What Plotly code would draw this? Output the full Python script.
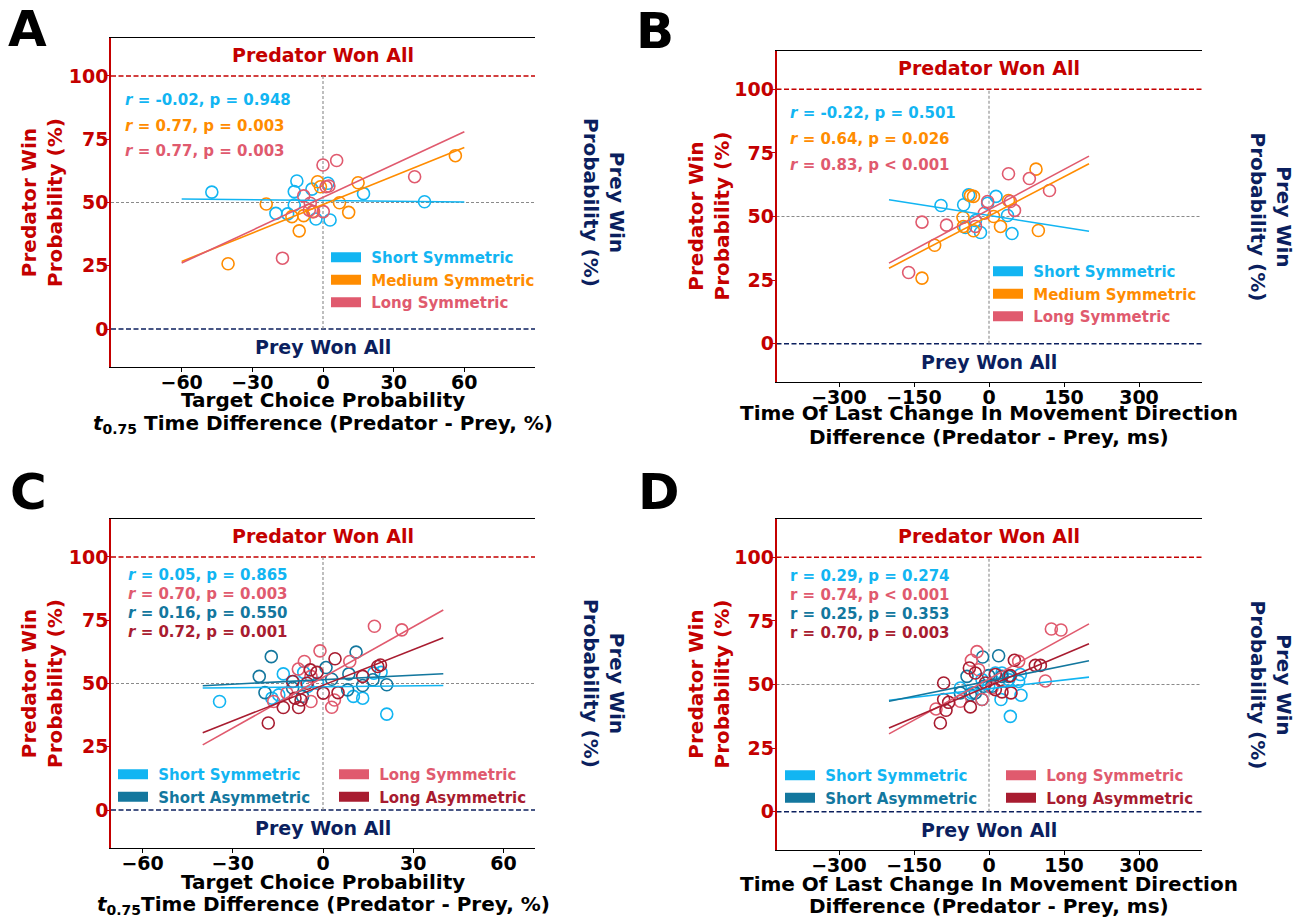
import numpy as np
import plotly.graph_objects as go

W, H = 1306, 917
FONT = "DejaVu Sans"
RED = "#c40000"
NAVY = "#0b1f5e"
GRAY = "#8a8a8a"

C_SHORT_SYM = "#12b5f2"
C_MED_SYM = "#ff8c00"
C_LONG_SYM = "#e05a6e"
C_SHORT_ASYM = "#13779e"
C_LONG_ASYM = "#a81c30"

# ---------------- Panel A data ----------------
a_short_sym_x = [-47.2, -11.1, -12.2, -4.7, 2.1, -12.2, -20.0, -15.0, -3.0, 3.0, 17.2, 43.1]
a_short_sym_y = [54.1, 58.5, 54.3, 55.3, 57.6, 49.0, 45.7, 45.5, 43.5, 43.1, 53.5, 50.3]
a_med_sym_x = [56.2, 14.9, -2.3, -1.1, -24.1, 7.0, 10.9, -13.2, -8.2, -4.4, -10.1, -40.3]
a_med_sym_y = [68.5, 57.8, 58.2, 56.2, 49.4, 49.9, 46.1, 44.4, 44.8, 46.4, 38.8, 25.8]
a_long_sym_x = [5.8, 0.0, 38.9, 1.3, 2.5, -8.2, -5.4, -4.0, 0.1, -5.8, -17.2]
a_long_sym_y = [66.6, 64.8, 60.2, 56.2, 56.5, 52.6, 49.7, 46.4, 46.4, 47.0, 28.0]
a_fit_slope = [-0.01, 0.375, 0.432]
a_fit_intercept = [50.8, 49.2, 52.0]
a_fit_xrange = [-60, 60]
a_stats = ["<i>r</i> = -0.02, p = 0.948", "<i>r</i> = 0.77, p = 0.003", "<i>r</i> = 0.77, p = 0.003"]

# ---------------- Panel B data ----------------
b_short_sym_x = [-96, -50.7, -40.7, 14, -2.7, -27, -47, -17, 37, 46]
b_short_sym_y = [54.3, 54.6, 58.5, 57.9, 55.2, 48.4, 45.7, 43.7, 50.4, 43.3]
b_med_sym_x = [94, -37, -31, 39, -52, 9.3, 23, -31, -51, 98.7, -108.7, -134]
b_med_sym_y = [68.6, 58.2, 57.9, 56.3, 49.6, 50.0, 46.1, 44.4, 46.1, 44.5, 38.7, 25.8]
b_long_sym_x = [39, 80.7, 121, -2.7, 42.7, 51, -9.3, -134, -85, -27, -160.7]
b_long_sym_y = [66.8, 64.9, 60.2, 55.9, 55.9, 52.4, 51.3, 47.8, 46.6, 46.1, 28.0]
b_fit_slope = [-0.031, 0.1025, 0.105]
b_fit_intercept = [50.4, 50.2, 52.7]
b_fit_xrange = [-200, 200]
b_stats = ["<i>r</i> = -0.22, p = 0.501", "<i>r</i> = 0.64, p = 0.026", "<i>r</i> = 0.83, p &lt; 0.001"]

# ---------------- Panel C data ----------------
c_short_sym_x = [-34.4, -13.2, -17, -9.9, -6.4, -5.1, 10.1, 13.2, 19.3, 16.9, 21.2, -1.8, -14.7]
c_short_sym_y = [42.9, 53.8, 44.2, 50.8, 54.4, 48.8, 44.9, 44.2, 54.4, 54.1, 37.9, 50.1, 45.5]
c_short_asym_x = [-17.2, -21.2, -19.3, -10.1, 1.0, 2.9, 11.0, 8.6, 8.2, 13.2, 16.6, 21.2, -6.8]
c_short_asym_y = [60.6, 52.8, 46.4, 48.2, 56.3, 51.7, 62.4, 53.8, 47.5, 49.2, 51.5, 49.5, 44.9]
c_long_sym_x = [17.1, 26.2, -1.0, -6.2, -8.2, 8.9, 3.8, 2.9, -4.0, -16.4, -12.0, -4.0]
c_long_sym_y = [72.6, 71.2, 62.9, 58.7, 55.7, 58.7, 43.5, 40.6, 42.9, 42.9, 46.2, 52.8]
c_long_asym_x = [-18.2, -13.2, -8.1, -10.1, -9.3, -7.3, -4.2, -2.0, -5.3, 0.1, 4.0, 5.0, 13.2, 18.2, 19.1]
c_long_asym_y = [34.4, 40.5, 40.5, 50.8, 44.2, 43.5, 55.4, 54.4, 50.1, 46.2, 59.8, 46.4, 52.8, 56.7, 57.3]
c_fit_slope = [0.0125, 0.059, 0.666, 0.469]
c_fit_intercept = [48.7, 51.5, 52.4, 49.3]
c_fit_xrange = [-40, 40]
c_stats = ["<i>r</i> = 0.05, p = 0.865", "<i>r</i> = 0.70, p = 0.003",
           "<i>r</i> = 0.16, p = 0.550", "<i>r</i> = 0.72, p = 0.001"]

# ---------------- Panel D data ----------------
d_short_sym_x = [42.7, 24, 64, 62.7, 59.3, 12.7, 26, -14, -34, -57.3, -0.7, 39.3]
d_short_sym_y = [37.5, 44.1, 45.8, 53.9, 51.2, 54.5, 54.5, 51.9, 46.7, 48.6, 49.3, 51.9]
d_short_asym_x = [19.3, -12.7, -44, -37.3, -14, -57.3, -0.7, 26, 39.3, -10.7, 6, -27.3]
d_short_asym_y = [61.3, 60.8, 53.2, 46.0, 44.1, 46.7, 53.5, 53.2, 53.2, 49.3, 49.3, 46.7]
d_long_sym_x = [124.7, 144, -24, -35.3, -20.7, 59.3, 112.7, -106, -57.3, -14, 6]
d_long_sym_y = [71.8, 71.4, 62.9, 59.5, 55.8, 59.1, 51.4, 40.4, 43.4, 44.1, 48.6]
d_long_asym_x = [-97.3, -90.7, -90.7, -86, -80.7, -37.3, -39.3, -27.3, -7.3, 12.7, 42.7, 50.7,
                 12.7, 26, 44, 92.7, 102.7]
d_long_asym_y = [34.9, 50.6, 44.1, 39.9, 43.0, 41.2, 56.5, 54.5, 50.6, 53.9, 53.5, 59.5,
                 48, 47.1, 46.7, 57.5, 57.5]
d_fit_slope = [0.0228, 0.0398, 0.108, 0.0828]
d_fit_intercept = [48.35, 51.35, 52.2, 49.45]
d_fit_xrange = [-200, 200]
d_stats = ["r = 0.29, p = 0.274", "r = 0.74, p &lt; 0.001",
           "r = 0.25, p = 0.353", "r = 0.70, p = 0.003"]

left_ticks = [0, 25, 50, 75, 100]
right_ticks = [0, 25, 50, 75, 100]
x_ticks_pct = [-60, -30, 0, 30, 60]
x_ticks_ms = [-300, -150, 0, 150, 300]

xtitle_pct_a = ["Target Choice Probability",
                "<i>t</i><sub>0.75</sub> Time Difference (Predator - Prey, %)"]
xtitle_pct_c = ["Target Choice Probability",
                "<i>t</i><sub>0.75</sub>Time Difference (Predator - Prey, %)"]
xtitle_ms = ["Time Of Last Change In Movement Direction",
             "Difference (Predator - Prey, ms)"]


def pxx(v):
    return v / W


def pxy(v):
    return 1 - v / H


fig = go.Figure()
annotations = []
shapes = []

panels = [
    dict(letter="A", letter_pos=(27, 29), xdom=(111, 535), ydom=(38, 367), xrange=[-90, 90], xticks=x_ticks_pct,
         series=[("Short Symmetric", C_SHORT_SYM, a_short_sym_x, a_short_sym_y),
                 ("Medium Symmetric", C_MED_SYM, a_med_sym_x, a_med_sym_y),
                 ("Long Symmetric", C_LONG_SYM, a_long_sym_x, a_long_sym_y)],
         slopes=a_fit_slope, intercepts=a_fit_intercept, fitx=a_fit_xrange,
         stats=a_stats, stats_colors=[C_SHORT_SYM, C_MED_SYM, C_LONG_SYM],
         stats_pos=(123, [100, 126, 151]), stats_size=15,
         legends=[((326, 241), [0, 1, 2])],
         ytitle_left=41.5, ytitle_right=604.5,
         xtitle=xtitle_pct_a, xtitle_y=[400, 424]),
    dict(letter="B", letter_pos=(655, 31), xdom=(776.5, 1201.5), ydom=(51, 382), xrange=[-425, 425], xticks=x_ticks_ms,
         series=[("Short Symmetric", C_SHORT_SYM, b_short_sym_x, b_short_sym_y),
                 ("Medium Symmetric", C_MED_SYM, b_med_sym_x, b_med_sym_y),
                 ("Long Symmetric", C_LONG_SYM, b_long_sym_x, b_long_sym_y)],
         slopes=b_fit_slope, intercepts=b_fit_intercept, fitx=b_fit_xrange,
         stats=b_stats, stats_colors=[C_SHORT_SYM, C_MED_SYM, C_LONG_SYM],
         stats_pos=(788, [113, 139, 165]), stats_size=15,
         legends=[((988, 255), [0, 1, 2])],
         ytitle_left=708, ytitle_right=1271,
         xtitle=xtitle_ms, xtitle_y=[413, 437]),
    dict(letter="C", letter_pos=(28, 492), xdom=(111, 535), ydom=(519, 848), xrange=[-70.5, 70.5], xticks=x_ticks_pct,
         series=[("Short Symmetric", C_SHORT_SYM, c_short_sym_x, c_short_sym_y),
                 ("Short Asymmetric", C_SHORT_ASYM, c_short_asym_x, c_short_asym_y),
                 ("Long Symmetric", C_LONG_SYM, c_long_sym_x, c_long_sym_y),
                 ("Long Asymmetric", C_LONG_ASYM, c_long_asym_x, c_long_asym_y)],
         slopes=c_fit_slope, intercepts=c_fit_intercept, fitx=c_fit_xrange,
         stats=c_stats, stats_colors=[C_SHORT_SYM, C_LONG_SYM, C_SHORT_ASYM, C_LONG_ASYM],
         stats_pos=(126, [575, 594, 613, 632]), stats_size=15,
         legends=[((113, 758), [0, 1]), ((334, 758), [2, 3])],
         ytitle_left=41.5, ytitle_right=604.5,
         xtitle=xtitle_pct_c, xtitle_y=[882, 905]),
    dict(letter="D", letter_pos=(659, 492), xdom=(776.5, 1201.5), ydom=(519, 850), xrange=[-425, 425], xticks=x_ticks_ms,
         series=[("Short Symmetric", C_SHORT_SYM, d_short_sym_x, d_short_sym_y),
                 ("Short Asymmetric", C_SHORT_ASYM, d_short_asym_x, d_short_asym_y),
                 ("Long Symmetric", C_LONG_SYM, d_long_sym_x, d_long_sym_y),
                 ("Long Asymmetric", C_LONG_ASYM, d_long_asym_x, d_long_asym_y)],
         slopes=d_fit_slope, intercepts=d_fit_intercept, fitx=d_fit_xrange,
         stats=d_stats, stats_colors=[C_SHORT_SYM, C_LONG_SYM, C_SHORT_ASYM, C_LONG_ASYM],
         stats_pos=(788, [576, 595, 614, 633]), stats_size=15,
         legends=[((780, 759), [0, 1]), ((1001, 759), [2, 3])],
         ytitle_left=708, ytitle_right=1271,
         xtitle=xtitle_ms, xtitle_y=[884, 906]),
]

layout_axes = {}
legend_count = 0
legend_layouts = {}
TICK_SIZE = 19

for i, p in enumerate(panels, start=1):
    xname = "x" if i == 1 else f"x{i}"
    yl_idx = 2 * i - 1
    yr_idx = 2 * i
    yl = "y" if yl_idx == 1 else f"y{yl_idx}"
    xkey = "xaxis" if i == 1 else f"xaxis{i}"
    ylkey = "yaxis" if yl_idx == 1 else f"yaxis{yl_idx}"
    yrkey = f"yaxis{yr_idx}"

    xd = [pxx(p["xdom"][0]), pxx(p["xdom"][1])]
    yd = [pxy(p["ydom"][1]), pxy(p["ydom"][0])]

    layout_axes[xkey] = dict(domain=xd, anchor=yl, range=p["xrange"], tickvals=p["xticks"],
                             ticks="outside", ticklen=4, tickwidth=1.2, tickcolor="black",
                             ticklabelstandoff=-6,
                             showline=True, linecolor="black", linewidth=1.2, mirror=True,
                             showgrid=False, zeroline=False,
                             tickfont=dict(family=FONT, size=TICK_SIZE, color="black", weight="bold"))
    layout_axes[ylkey] = dict(domain=yd, anchor=xname, range=[-15, 115], tickvals=left_ticks,
                              ticks="outside", ticklen=4, tickwidth=1.2, tickcolor=RED,
                              ticklabelstandoff=-7,
                              showline=True, linecolor=RED, linewidth=1.5,
                              showgrid=False, zeroline=False,
                              tickfont=dict(family=FONT, size=TICK_SIZE, color=RED, weight="bold"))
    layout_axes[yrkey] = dict(overlaying=yl, side="right", anchor=xname, range=[115, -15], tickvals=right_ticks,
                              ticks="outside", ticklen=4, tickwidth=1.2, tickcolor=NAVY,
                              ticklabelstandoff=-2,
                              showline=True, linecolor=NAVY, linewidth=1.5,
                              showgrid=False, zeroline=False,
                              tickfont=dict(family=FONT, size=TICK_SIZE, color=NAVY, weight="bold"))

    # reference lines
    shapes.append(dict(type="line", xref=f"{xname} domain", yref=yl, x0=0, x1=1, y0=100, y1=100,
                       line=dict(color=RED, width=1.5, dash="5px,2.5px"), layer="below"))
    shapes.append(dict(type="line", xref=f"{xname} domain", yref=yl, x0=0, x1=1, y0=0, y1=0,
                       line=dict(color=NAVY, width=1.5, dash="5px,2.5px"), layer="below"))
    shapes.append(dict(type="line", xref=f"{xname} domain", yref=yl, x0=0, x1=1, y0=50, y1=50,
                       line=dict(color=GRAY, width=1.1, dash="3px,2px"), layer="below"))
    shapes.append(dict(type="line", xref=xname, yref=yl, x0=0, x1=0, y0=0, y1=100,
                       line=dict(color=GRAY, width=1.1, dash="3px,2px"), layer="below"))

    # scatter points and fit lines
    for name, col, xs, ys in p["series"]:
        fig.add_trace(go.Scatter(x=xs, y=ys, mode="markers", xaxis=xname, yaxis=yl, showlegend=False,
                                 marker=dict(symbol="circle-open", size=12, color=col,
                                             line=dict(width=1.6, color=col))))
    for (name, col, xs, ys), sl, ic in zip(p["series"], p["slopes"], p["intercepts"]):
        fx = np.array(p["fitx"], dtype=float)
        fig.add_trace(go.Scatter(x=fx, y=sl * fx + ic, mode="lines", xaxis=xname, yaxis=yl,
                                 showlegend=False, line=dict(color=col, width=1.6)))

    # legends
    for (lx, ly), idxs in p["legends"]:
        legend_count += 1
        lname = "legend" if legend_count == 1 else f"legend{legend_count}"
        legend_layouts[lname] = dict(x=pxx(lx), y=pxy(ly), xanchor="left", yanchor="top",
                                     bgcolor="rgba(0,0,0,0)", borderwidth=0, itemwidth=30,
                                     tracegroupgap=0, traceorder="normal",
                                     font=dict(family=FONT, size=15, weight="bold"))
        for k in idxs:
            name, col, _, _ = p["series"][k]
            fig.add_trace(go.Scatter(x=[None], y=[None], mode="lines", xaxis=xname, yaxis=yl,
                                     legend=lname, showlegend=True,
                                     name=f'<span style="color:{col}">\u00a0{name}</span>',
                                     line=dict(color=col, width=10)))

    # won-all labels
    annotations.append(dict(x=0, y=108.3, xref=xname, yref=yl, text="Predator Won All", showarrow=False,
                            font=dict(family=FONT, size=19, color=RED, weight="bold"),
                            xanchor="center", yanchor="middle"))
    annotations.append(dict(x=0, y=-7.1, xref=xname, yref=yl, text="Prey Won All", showarrow=False,
                            font=dict(family=FONT, size=19, color=NAVY, weight="bold"),
                            xanchor="center", yanchor="middle"))

    # stats text
    sx, sys_ = p["stats_pos"]
    for txt, col, yy in zip(p["stats"], p["stats_colors"], sys_):
        annotations.append(dict(x=pxx(sx), y=pxy(yy), xref="paper", yref="paper", text=txt, showarrow=False,
                                font=dict(family=FONT, size=p["stats_size"], color=col, weight="bold"),
                                xanchor="left", yanchor="middle"))

    # axis titles
    ymid = (p["ydom"][0] + p["ydom"][1]) / 2
    annotations.append(dict(x=pxx(p["ytitle_left"]), y=pxy(ymid), xref="paper", yref="paper",
                            text="Predator Win<br>Probability (%)", showarrow=False, textangle=-90,
                            font=dict(family=FONT, size=20, color=RED, weight="bold"),
                            xanchor="center", yanchor="middle"))
    annotations.append(dict(x=pxx(p["ytitle_right"]), y=pxy(ymid), xref="paper", yref="paper",
                            text="Prey Win<br>Probability (%)", showarrow=False, textangle=90,
                            font=dict(family=FONT, size=20, color=NAVY, weight="bold"),
                            xanchor="center", yanchor="middle"))
    xc = pxx((p["xdom"][0] + p["xdom"][1]) / 2)
    for line_txt, ly in zip(p["xtitle"], p["xtitle_y"]):
        annotations.append(dict(x=xc, y=pxy(ly), xref="paper", yref="paper", text=line_txt, showarrow=False,
                                font=dict(family=FONT, size=20, color="black", weight="bold"),
                                xanchor="center", yanchor="middle"))
    # panel letter
    annotations.append(dict(x=pxx(p["letter_pos"][0]), y=pxy(p["letter_pos"][1]), xref="paper", yref="paper",
                            text=p["letter"], showarrow=False,
                            font=dict(family=FONT, size=50, color="black", weight="bold"),
                            xanchor="center", yanchor="middle"))

fig.update_layout(width=W, height=H, margin=dict(l=0, r=0, t=0, b=0),
                  paper_bgcolor="white", plot_bgcolor="white",
                  showlegend=True, annotations=annotations, shapes=shapes,
                  **layout_axes, **legend_layouts)

fig.write_html("out.html", config={"displayModeBar": False},
               post_script="document.body.style.margin='0';document.body.style.padding='0';")
